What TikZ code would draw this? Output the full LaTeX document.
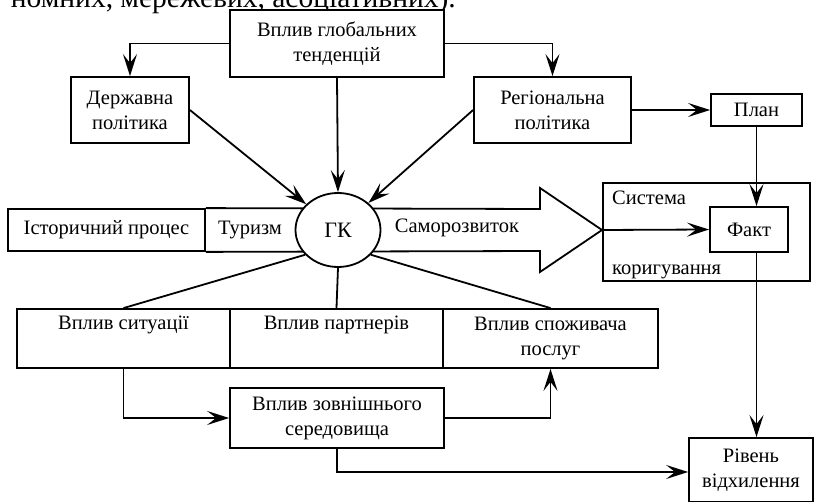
\documentclass[tikz,border=0pt]{standalone}
\usepackage{fontspec}
\setmainfont{Liberation Serif}
\usetikzlibrary{arrows.meta,shapes.geometric,calc}
\begin{document}
\begin{tikzpicture}[x=1pt,y=-1pt,
  lw/.style={line width=1.8pt},
  box/.style={draw,lw,fill=white,inner sep=0pt,align=center,font=\fontsize{20.5}{25}\selectfont},
  txt/.style={inner sep=0pt,font=\fontsize{20.5}{25}\selectfont},
  arr/.style={lw,-{Stealth[length=22pt,width=14pt,inset=9pt]}},
  con/.style={lw}]
\useasboundingbox (0,0) rectangle (815,502);
\node[anchor=base east,inner sep=0pt,font=\fontsize{29.5}{32}\selectfont] (cut) at (456,8) {номних, мережевих, асоціативних).};
% top row
\node[box,minimum width=214,minimum height=67] (top) at (337,43.5) {Вплив глобальних\\тенденцій};
\node[box,minimum width=118,minimum height=66] (derzh) at (130,110) {Державна\\політика};
\node[box,minimum width=157,minimum height=66] (region) at (552.5,110) {Регіональна\\політика};
\node[box,minimum width=91,minimum height=32] (plan) at (756.5,110) {План};
% middle row
\node[box,minimum width=197,minimum height=42] (hist) at (106.5,230) {Історичний процес};
\coordinate (tip) at (602,230);
\draw[lw] (hist.north east) -- (540,209) -- (540,188) -- (tip) -- (540,272) -- (540,251) -- (hist.south east);
\node[draw,lw,fill=white,ellipse,minimum width=85,minimum height=74,inner sep=0pt,font=\fontsize{22}{24}\selectfont] (ell) at (338,230) {ГК};
\node[txt] (tur) at (250,230) {Туризм};
\node[txt] (samo) at (457,228) {Саморозвиток};
\node[draw,lw,minimum width=207,minimum height=98,inner sep=0pt] (sys) at (706.5,232) {};
\node[txt,anchor=base west] (systxt) at (612,205) {Система};
\node[txt,anchor=base west] (kortxt) at (612,275) {коригування};
\node[box,minimum width=78,minimum height=45] (fakt) at (749,229.5) {Факт};
% lower row
\node[box,minimum width=213,minimum height=59] (sit) at (123.5,338.5) {Вплив ситуації\\\strut};
\node[box,minimum width=213,minimum height=59] (part) at (336.5,338.5) {Вплив партнерів\\\strut};
\node[box,minimum width=215,minimum height=59] (spoz) at (550.5,338.5) {Вплив споживача\\послуг};
\node[box,minimum width=214,minimum height=60] (zovn) at (337,418) {Вплив зовнішнього\\середовища};
\node[box,minimum width=124,minimum height=64] (riv) at (751,470) {Рівень\\відхилення};
% connectors
\draw[arr] (top.west) -| (derzh.north);
\draw[arr] (top.east) -| (region.north);
\draw[arr] (top.south) -- (ell.north);
\draw[arr] (derzh.east) -- (ell);
\draw[arr] (region.west) -- (ell);
\draw[arr] (region.east) -- (plan.west);
\draw[arr] (plan.south) -- (plan.south |- fakt.north);
\draw[arr] (tip) -- (fakt.west);
\draw[arr] (plan.south |- fakt.south) -- (plan.south |- riv.north);
\draw[con] (ell.-143) -- (sit.north);
\draw[con] (ell.south) -- (part.north);
\draw[con] (ell.-37) -- (spoz.north);
\draw[arr] (sit.south) |- (zovn.west);
\draw[arr] (zovn.east) -| (spoz.south);
\draw[arr] (zovn.south) |- ($(riv.west)+(0,2)$);
\end{tikzpicture}
\end{document}
